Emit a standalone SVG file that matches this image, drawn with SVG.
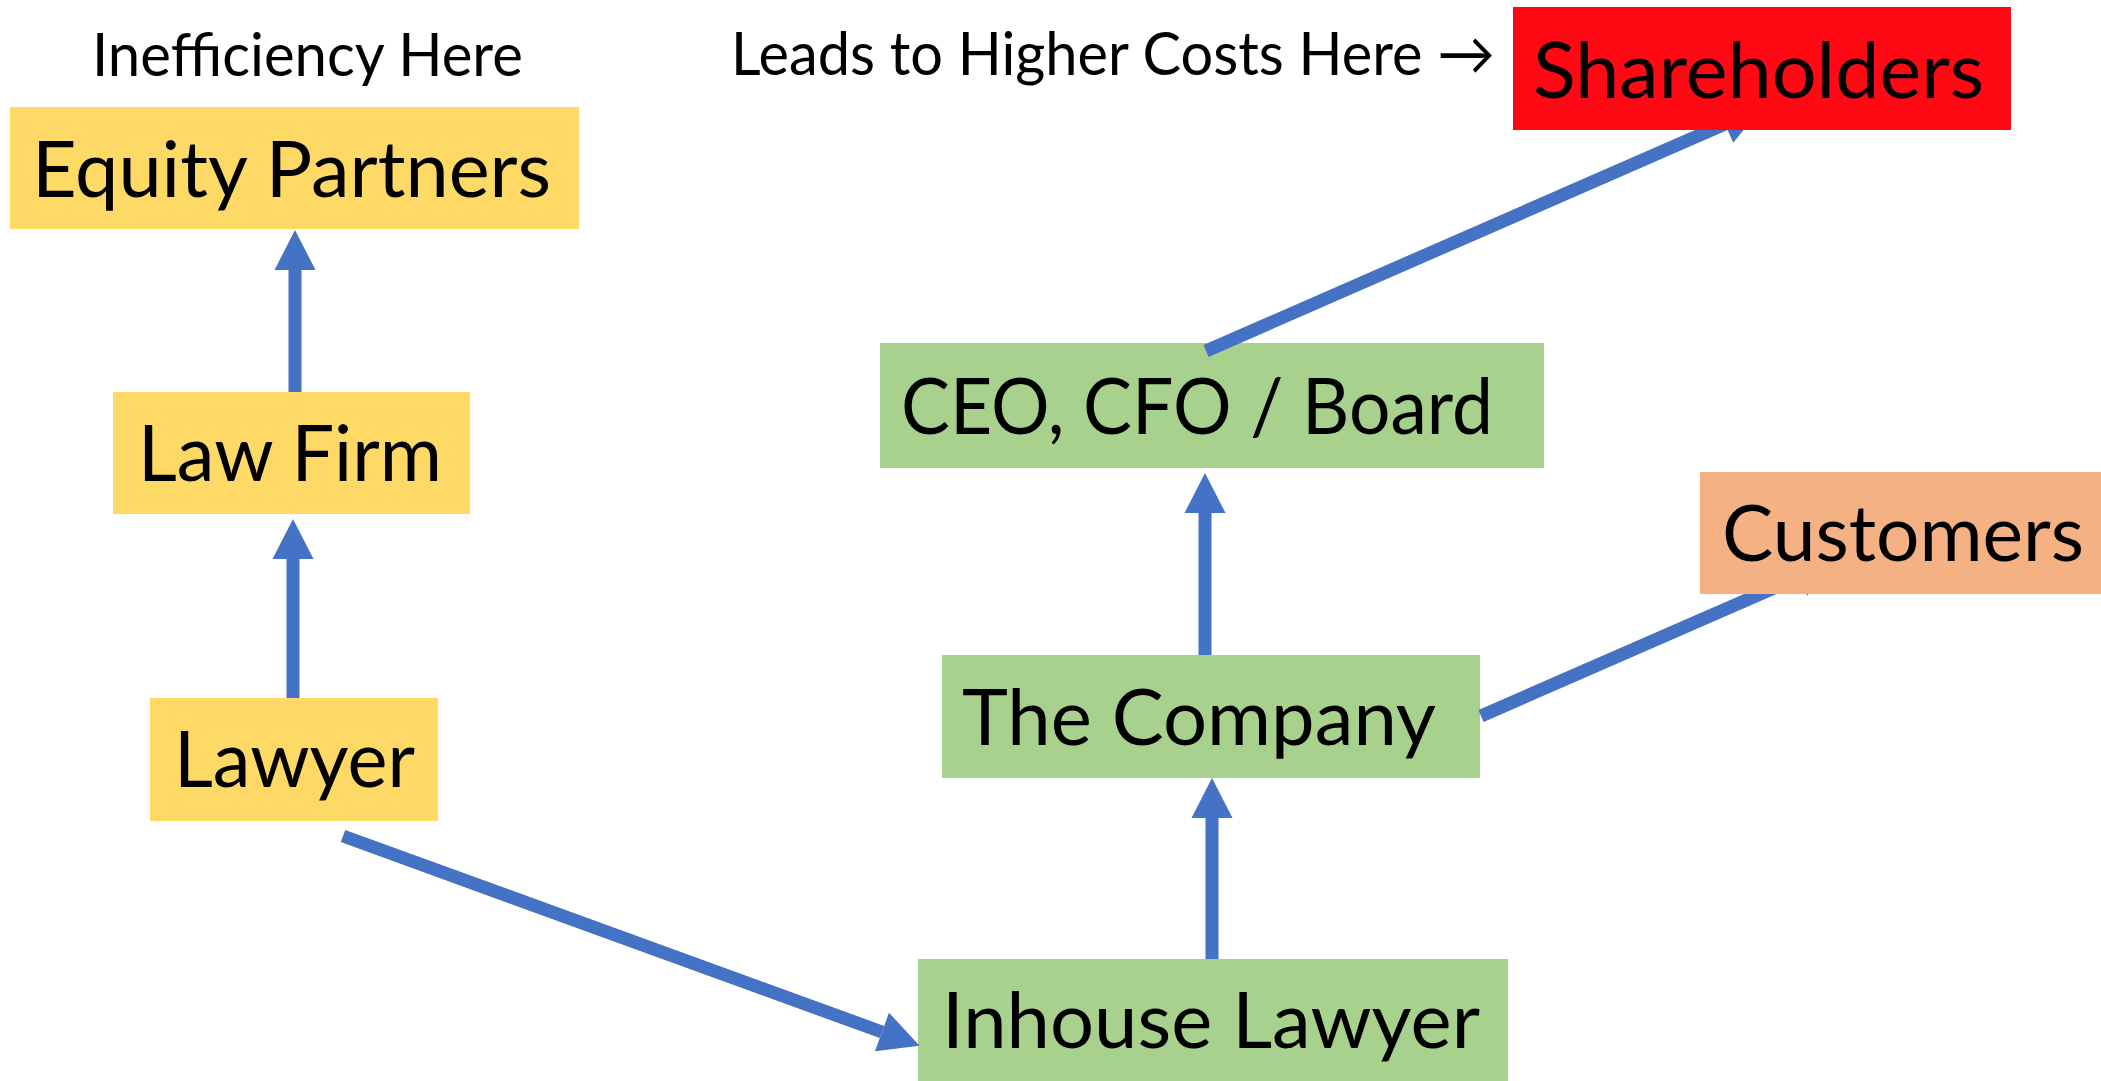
<svg xmlns="http://www.w3.org/2000/svg" width="2101" height="1081" viewBox="0 0 2101 1081">
  <style>
    .lbl { font-family: Lato, "Open Sans", "DejaVu Sans", "Liberation Sans", sans-serif; fill: #000000; }
    .node { font-size: 77px; }
    .note { font-size: 60px; }
    .yellow { fill: #FFD966; }
    .green { fill: #A9D18E; }
    .red { fill: #FF0914; }
    .orange { fill: #F4B183; }
    .conn { stroke: #4472C4; stroke-width: 13; fill: none; stroke-linecap: butt; marker-end: url(#arrow); }
  </style>
  <defs>
    <marker id="arrow" markerUnits="userSpaceOnUse" markerWidth="41" markerHeight="42" refX="0" refY="20.5" orient="auto" overflow="visible">
      <path d="M0,0 L40,20.5 L0,41 Z" fill="#4472C4"/>
    </marker>
  </defs>
  <rect width="2101" height="1081" fill="#FFFFFF"/>

  <g id="note-inefficiency">
    <text class="lbl note" x="92" y="76" textLength="431" lengthAdjust="spacingAndGlyphs">Inefficiency Here</text>
  </g>
  <g id="note-costs">
    <text class="lbl note" x="731" y="75" textLength="764" lengthAdjust="spacingAndGlyphs">Leads to Higher Costs Here →</text>
  </g>

  <g id="node-equity-partners">
    <rect class="yellow" x="10" y="107" width="569" height="122"/>
    <text class="lbl node" x="32" y="197" textLength="519" lengthAdjust="spacingAndGlyphs">Equity Partners</text>
  </g>
  <g id="node-law-firm">
    <rect class="yellow" x="113" y="392" width="357" height="122"/>
    <text class="lbl node" x="138" y="481" textLength="304" lengthAdjust="spacingAndGlyphs">Law Firm</text>
  </g>
  <g id="node-lawyer">
    <rect class="yellow" x="150" y="698" width="288" height="123"/>
    <text class="lbl node" x="174" y="787" textLength="241" lengthAdjust="spacingAndGlyphs">Lawyer</text>
  </g>
  <g id="node-ceo-board">
    <rect class="green" x="880" y="343" width="664" height="125"/>
    <text class="lbl node" x="901" y="434" textLength="592" lengthAdjust="spacingAndGlyphs">CEO, CFO / Board</text>
  </g>
  <g id="node-company">
    <rect class="green" x="942" y="655" width="538" height="123"/>
    <text class="lbl node" x="962" y="745" textLength="474" lengthAdjust="spacingAndGlyphs">The Company</text>
  </g>
  <g id="node-inhouse-lawyer">
    <rect class="green" x="918" y="959" width="590" height="122"/>
    <text class="lbl node" x="942" y="1048" textLength="538" lengthAdjust="spacingAndGlyphs">Inhouse Lawyer</text>
  </g>

  <g id="connectors">
    <line class="conn" x1="293" y1="698" x2="293" y2="559"/>
    <line class="conn" x1="295" y1="392" x2="295" y2="270"/>
    <line class="conn" x1="343" y1="836" x2="882" y2="1032"/>
    <line class="conn" x1="1212" y1="959" x2="1212" y2="818"/>
    <line class="conn" x1="1205" y1="655" x2="1205" y2="513"/>
    <line class="conn" x1="1206" y1="351" x2="1725" y2="124"/>
    <line class="conn" x1="1481" y1="716" x2="1799" y2="577"/>
  </g>

  <g id="node-shareholders">
    <rect class="red" x="1513" y="7" width="498" height="123"/>
    <text class="lbl node" x="1533" y="98" textLength="451" lengthAdjust="spacingAndGlyphs">Shareholders</text>
  </g>
  <g id="node-customers">
    <rect class="orange" x="1700" y="472" width="401" height="122"/>
    <text class="lbl node" x="1722" y="561" textLength="362" lengthAdjust="spacingAndGlyphs">Customers</text>
  </g>
</svg>
